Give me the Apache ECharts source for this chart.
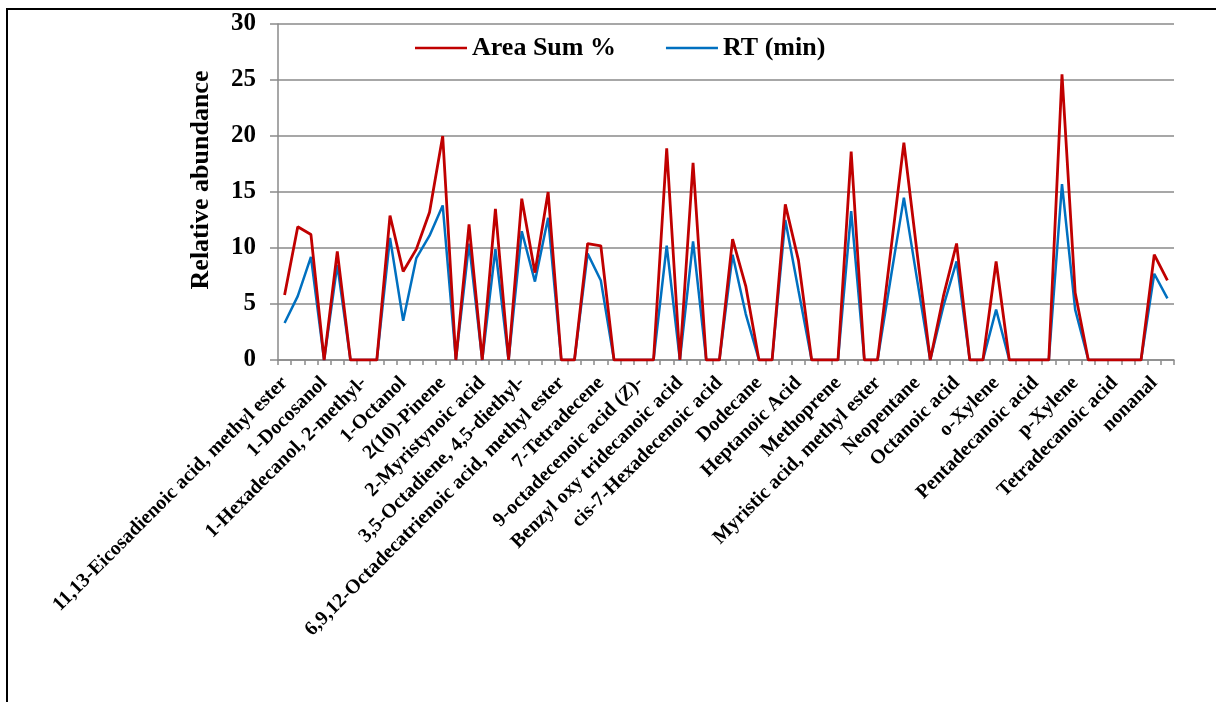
<!DOCTYPE html>
<html>
<head>
<meta charset="utf-8">
<title>Relative abundance</title>
<script src="https://cdn.jsdelivr.net/npm/echarts@6/dist/echarts.min.js"></script>
<style>
  html, body { margin: 0; padding: 0; background: #ffffff; }
  #chart { width: 1216px; height: 702px; }
</style>
</head>
<body>
<div id="chart"></div>
<script>
// Compounds in run order; only every third one carries a printed name on the axis.
const compounds = [
  '11,13-Eicosadienoic acid, methyl ester', '', '',
  '1-Docosanol', '', '',
  '1-Hexadecanol, 2-methyl-', '', '',
  '1-Octanol', '', '',
  '2(10)-Pinene', '', '',
  '2-Myristynoic acid', '', '',
  '3,5-Octadiene, 4,5-diethyl-', '', '',
  '6,9,12-Octadecatrienoic acid, methyl ester', '', '',
  '7-Tetradecene', '', '',
  '9-octadecenoic acid (Z)-', '', '',
  'Benzyl oxy tridecanoic acid', '', '',
  'cis-7-Hexadecenoic acid', '', '',
  'Dodecane', '', '',
  'Heptanoic Acid', '', '',
  'Methoprene', '', '',
  'Myristic acid, methyl ester', '', '',
  'Neopentane', '', '',
  'Octanoic acid', '', '',
  'o-Xylene', '', '',
  'Pentadecanoic acid', '', '',
  'p-Xylene', '', '',
  'Tetradecanoic acid', '', '',
  'nonanal', ''
];

const areaSum = [
  5.8, 11.9, 11.2, 0, 9.7, 0, 0, 0, 12.9, 7.9,
  9.9, 13.2, 20.0, 0, 12.1, 0, 13.5, 0, 14.4, 7.8,
  15.0, 0, 0, 10.4, 10.2, 0, 0, 0, 0, 18.9,
  0, 17.6, 0, 0, 10.8, 6.6, 0, 0, 13.9, 8.9,
  0, 0, 0, 18.6, 0, 0, 9.7, 19.4, 9.6, 0,
  5.7, 10.4, 0, 0, 8.8, 0, 0, 0, 0, 25.5,
  6.0, 0, 0, 0, 0, 0, 9.4, 7.1
];

const retentionTime = [
  3.3, 5.7, 9.2, 0, 8.5, 0, 0, 0, 10.9, 3.5,
  9.1, 11.1, 13.8, 0, 10.4, 0, 9.9, 0, 11.5, 7.0,
  12.7, 0, 0, 9.5, 7.1, 0, 0, 0, 0, 10.2,
  0, 10.6, 0, 0, 9.4, 4.1, 0, 0, 12.5, 6.2,
  0, 0, 0, 13.3, 0, 0, 7.3, 14.5, 7.2, 0,
  4.8, 8.8, 0, 0, 4.5, 0, 0, 0, 0, 15.7,
  4.5, 0, 0, 0, 0, 0, 7.7, 5.5
];

const yTicks = { min: 0, max: 30, step: 5 };

const serif = '"Liberation Serif", "Times New Roman", serif';
const gridGray = '#8a8a8a';

const chart = echarts.init(document.getElementById('chart'), null, { renderer: 'canvas' });

chart.setOption({
  animation: false,
  backgroundColor: '#ffffff',
  textStyle: { fontFamily: serif, fontWeight: 'bold', color: '#000' },
  graphic: [{
    type: 'rect',
    shape: { x: 7, y: 9, width: 1300, height: 800 },
    style: { fill: null, stroke: '#000', lineWidth: 2 },
    silent: true
  }],
  legend: {
    data: ['Area Sum %', 'RT (min)'],
    left: 410,
    top: 30,
    icon: 'rect',
    itemWidth: 52,
    itemHeight: 2.5,
    itemGap: 50,
    textStyle: { fontFamily: serif, fontWeight: 'bold', fontSize: 26, color: '#000' }
  },
  grid: { left: 278, right: 42, top: 24, bottom: 342, containLabel: false },
  xAxis: {
    type: 'category',
    data: compounds,
    boundaryGap: true,
    axisLine: { show: true, lineStyle: { color: gridGray, width: 1.5 } },
    axisTick: { show: true, interval: 0, length: 5, lineStyle: { color: gridGray, width: 1.5 } },
    axisLabel: {
      interval: 2,
      rotate: 45,
      margin: 20,
      fontFamily: serif,
      fontWeight: 'bold',
      fontSize: 20,
      color: '#000',
      formatter: function (name) {
        return name.replace('(Z)', '({z|Z})');
      },
      rich: {
        z: { fontFamily: serif, fontWeight: 'bold', fontStyle: 'italic', fontSize: 20, color: '#000' }
      }
    },
    splitLine: { show: false }
  },
  yAxis: {
    type: 'value',
    min: yTicks.min,
    max: yTicks.max,
    interval: yTicks.step,
    name: 'Relative abundance',
    nameLocation: 'middle',
    nameGap: 64,
    nameTextStyle: { fontFamily: serif, fontWeight: 'bold', fontSize: 26, color: '#000', padding: [0, 0, 0, 24] },
    axisLine: { show: true, lineStyle: { color: gridGray, width: 1.5 } },
    axisTick: { show: true, length: 8, lineStyle: { color: gridGray, width: 1.5 } },
    axisLabel: { margin: 22, fontFamily: serif, fontWeight: 'bold', fontSize: 25, color: '#000' },
    splitLine: { show: true, lineStyle: { color: gridGray, width: 1.5 } }
  },
  series: [
    {
      name: 'RT (min)',
      type: 'line',
      data: retentionTime,
      symbol: 'none',
      lineStyle: { color: '#0070C0', width: 2.5 },
      itemStyle: { color: '#0070C0' },
      z: 2
    },
    {
      name: 'Area Sum %',
      type: 'line',
      data: areaSum,
      symbol: 'none',
      lineStyle: { color: '#C00000', width: 2.8 },
      itemStyle: { color: '#C00000' },
      z: 3
    }
  ]
});
</script>
</body>
</html>
